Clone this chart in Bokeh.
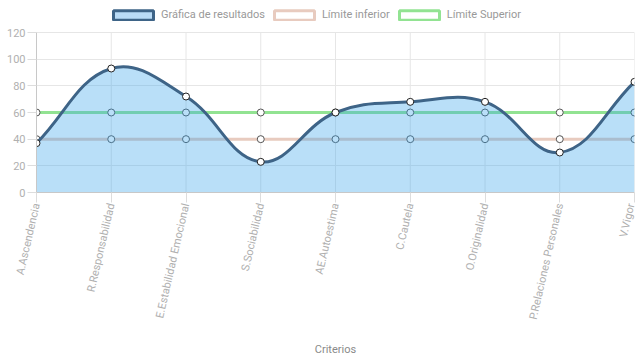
import numpy as np
from bokeh.plotting import figure
from bokeh.models import (Range1d, FixedTicker, Legend, LegendItem, ColumnDataSource)
from bokeh.embed import file_html
from bokeh.resources import INLINE

# ---- data ----
categories = ["A.Ascendencia", "R.Responsabilidad", "E.Estabilidad Emocional",
              "S.Sociabilidad", "AE.Autoestima", "C.Cautela", "O.Originalidad",
              "P.Relaciones Personales", "V.Vigor"]
resultados = [37, 93, 72, 23, 60, 68, 68, 30, 83]
limite_inferior = [40, 40, 40, 40, 40, 40, 40, 40, 40]
limite_superior = [60, 60, 60, 60, 60, 60, 60, 60, 60]
y_ticks = [0, 20, 40, 60, 80, 100, 120]

FONT = "Roboto"
W, H = 637, 359
LEFT, RIGHT, BOTTOM = 36, 3, 167
LEGEND_SPACE = 32          # px above the 120 line reserved for the legend
FRAME_H = H - BOTTOM       # frame reaches the top edge; legend lives inside it
PX_PER_UNIT = (FRAME_H - LEGEND_SPACE) / 120.0
Y_TOP = 120 + LEGEND_SPACE / PX_PER_UNIT

xs = list(range(len(categories)))

p = figure(width=W, height=H, output_backend="svg", toolbar_location=None,
           x_range=Range1d(0, len(categories) - 1), y_range=Range1d(0, Y_TOP),
           min_border_left=LEFT, min_border_right=RIGHT,
           min_border_top=0, min_border_bottom=BOTTOM)
p.outline_line_color = None
p.background_fill_color = "white"

# axes
p.xaxis.ticker = FixedTicker(ticks=xs)
p.xaxis.major_label_overrides = {i: c for i, c in enumerate(categories)}
p.xaxis.major_label_orientation = np.deg2rad(77)
p.yaxis.ticker = FixedTicker(ticks=y_ticks)
p.yaxis.bounds = (y_ticks[0], y_ticks[-1])
for ax in (p.xaxis[0], p.yaxis[0]):
    ax.major_label_text_font = FONT
    ax.major_label_text_font_size = "11px"
    ax.major_label_text_color = "#b0b0b0"
    ax.axis_line_color = "#c8c8c8"
    ax.major_tick_line_color = "#dddddd"
    ax.major_tick_in = 0
    ax.minor_tick_line_color = None
p.yaxis.major_tick_out = 9
p.yaxis.major_label_standoff = 2
p.xaxis.major_tick_out = 10
p.xaxis.major_label_standoff = 1
p.xaxis.axis_label = "Criterios"
p.xaxis.axis_label_text_font = FONT
p.xaxis.axis_label_text_font_size = "11px"
p.xaxis.axis_label_text_font_style = "normal"
p.xaxis.axis_label_text_color = "#8a8a8a"
p.xaxis.axis_label_standoff = 18
p.ygrid.grid_line_color = "#e6e6e6"
p.ygrid.ticker = FixedTicker(ticks=y_ticks)
p.xgrid.visible = False
# vertical grid lines limited to the 0..120 value band
p.segment(x0=xs, y0=[y_ticks[0]] * len(xs), x1=xs, y1=[y_ticks[-1]] * len(xs),
          line_color="#e6e6e6", line_width=1, level="underlay")

# ---- limit lines (drawn first, under the fill) ----
sup_color = "#92e392"
inf_color = "#e8cbbf"
p.line(xs, limite_inferior, line_color=inf_color, line_width=3)
p.scatter(xs, limite_inferior, size=7, fill_color="white", line_color="#555555", line_width=1)
p.line(xs, limite_superior, line_color=sup_color, line_width=3)
p.scatter(xs, limite_superior, size=7, fill_color="white", line_color="#555555", line_width=1)

# ---- smooth curve (Chart.js style cardinal bezier, tension 0.4) ----
frame_w = W - LEFT - RIGHT
sx = frame_w / (len(categories) - 1)
sy = PX_PER_UNIT
tension = 0.4
px = np.array(xs, float) * sx
py = np.array(resultados, float) * sy
n = len(px)
cp_prev = []
cp_next = []
for i in range(n):
    ip = max(i - 1, 0)
    inx = min(i + 1, n - 1)
    d01 = np.hypot(px[i] - px[ip], py[i] - py[ip])
    d12 = np.hypot(px[inx] - px[i], py[inx] - py[i])
    s01 = d01 / (d01 + d12) if d01 + d12 else 0
    s12 = d12 / (d01 + d12) if d01 + d12 else 0
    fa, fb = tension * s01, tension * s12
    dx, dy = px[inx] - px[ip], py[inx] - py[ip]
    cp_prev.append(((px[i] - fa * dx) / sx, (py[i] - fa * dy) / sy))
    cp_next.append(((px[i] + fb * dx) / sx, (py[i] + fb * dy) / sy))

x0 = xs[:-1]; y0 = resultados[:-1]
x1 = xs[1:]; y1 = resultados[1:]
cx0 = [cp_next[i][0] for i in range(n - 1)]
cy0 = [cp_next[i][1] for i in range(n - 1)]
cx1 = [cp_prev[i + 1][0] for i in range(n - 1)]
cy1 = [cp_prev[i + 1][1] for i in range(n - 1)]

# fill under the curve (rendering of the same bezier segments)
t = np.linspace(0, 1, 30)
fx, fy = [], []
for i in range(n - 1):
    a = (1 - t) ** 3
    b = 3 * (1 - t) ** 2 * t
    c = 3 * (1 - t) * t ** 2
    d = t ** 3
    fx.extend(a * x0[i] + b * cx0[i] + c * cx1[i] + d * x1[i])
    fy.extend(a * y0[i] + b * cy0[i] + c * cy1[i] + d * y1[i])
fx = [xs[0]] + fx + [xs[-1]]
fy = [0] + fy + [0]
p.patch(fx, fy, fill_color="#36a2eb", fill_alpha=0.35, line_color=None)

main_color = "#3e6487"
p.bezier(x0=x0, y0=y0, x1=x1, y1=y1, cx0=cx0, cy0=cy0, cx1=cx1, cy1=cy1,
         line_color=main_color, line_width=3)
p.scatter(xs, resultados, size=7, fill_color="white", line_color="#222222", line_width=1)

# ---- legend (proxy glyphs with no drawable data) ----
proxy = ColumnDataSource(data=dict(l=[np.nan], r=[np.nan], b=[np.nan], t=[np.nan]))
r1 = p.quad(left="l", right="r", bottom="b", top="t", source=proxy,
            fill_color="#b9dbf6", line_color=main_color, line_width=3)
r2 = p.quad(left="l", right="r", bottom="b", top="t", source=proxy,
            fill_color="white", line_color=inf_color, line_width=3)
r3 = p.quad(left="l", right="r", bottom="b", top="t", source=proxy,
            fill_color="white", line_color=sup_color, line_width=3)
legend = Legend(items=[LegendItem(label="Gráfica de resultados", renderers=[r1]),
                       LegendItem(label="Límite inferior", renderers=[r2]),
                       LegendItem(label="Límite Superior", renderers=[r3])],
                orientation="horizontal", location=(72, FRAME_H - 21),
                glyph_width=50, glyph_height=12, label_height=12,
                label_standoff=3, spacing=4, padding=0, margin=0,
                border_line_color=None, background_fill_alpha=0,
                label_text_font=FONT, label_text_font_size="11px",
                label_text_color="#999999", label_text_baseline="middle")
p.add_layout(legend, "center")

open("out.html", "w").write(file_html(p, INLINE))
